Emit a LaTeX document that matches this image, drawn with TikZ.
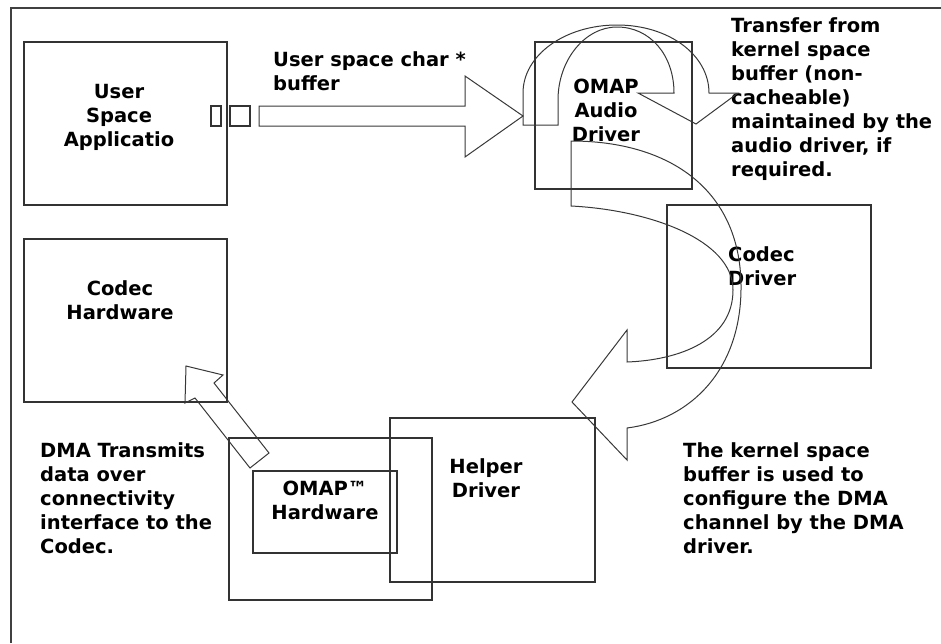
\documentclass[tikz,border=0pt]{standalone}
\usepackage{fontspec}
\setmainfont{DejaVu Sans}
\usetikzlibrary{shapes,arrows,positioning}

\begin{document}
\begin{tikzpicture}[x=1pt,y=-1pt]
 \tikzset{box node/.style={rectangle, draw=black!80, line width=1.3pt,
 		inner sep=0pt}, }
 \tikzset{label node/.style={inner sep=0pt,
 		font=\bfseries\fontsize{19.5}{24}\selectfont}, }
 \tikzset{shape line/.style={draw=black!78, line width=1pt}, }
 \useasboundingbox (0,0) rectangle (941,643);
 \draw[black!75, line width=1.3pt] (11,643) -- (11,8) -- (941,8);
 \node[box node, minimum width=203pt, minimum height=163pt] (1) at (125.5,123.5) {};
 \node[box node, minimum width=157pt, minimum height=147pt] (2) at (613.5,115.5) {};
 \node[box node, minimum width=204pt, minimum height=163pt] (3) at (769,286.5) {};
 \node[box node, minimum width=203pt, minimum height=163pt] (4) at (125.5,320.5) {};
 \node[box node, minimum width=205pt, minimum height=164pt] (5) at (492.5,500) {};
 \node[box node, minimum width=203pt, minimum height=162pt] (6) at (330.5,519) {};
 \node[box node, minimum width=144pt, minimum height=82pt] (7) at (325,512) {};
 \node[box node, minimum width=10pt, minimum height=20pt] (8) at (216,116) {};
 \node[box node, minimum width=20pt, minimum height=20pt] (9) at (240,116) {};

 \node[label node, anchor=north, align=center] (10) at (119,84) {User\\Space\\Applicatio};
 \node[label node, anchor=north west, align=left] (11) at (273,51) {User space char *\\buffer};
 \node[label node, anchor=north, align=center] (12) at (606,79) {OMAP\\Audio\\Driver};
 \node[label node, anchor=north west, align=left] (13) at (731,17) {Transfer from\\kernel space\\buffer (non-\\cacheable)\\maintained by the\\audio driver, if\\required.};
 \node[label node, anchor=north west, align=left] (14) at (728,246) {Codec\\Driver};
 \node[label node, anchor=north, align=center] (15) at (120,280) {Codec\\Hardware};
 \node[label node, anchor=north, align=center] (16) at (486,458) {Helper\\Driver};
 \node[label node, anchor=north, align=center] (17) at (325,481) {OMAP™\\Hardware};
 \node[label node, anchor=north west, align=left] (18) at (40,442) {DMA Transmits\\data over\\connectivity\\interface to the\\Codec.};
 \node[label node, anchor=north west, align=left] (19) at (683,442) {The kernel space\\buffer is used to\\configure the DMA\\channel by the DMA\\driver.};

% buffer arrow
 \draw[shape line] (259,106) -- (465,106) -- (465,76) -- (523,116) -- (465,157)
   -- (465,126) -- (259,126) -- cycle;
% u-turn over audio driver
 \draw[shape line] (558,125) -- (523,125) -- (523,93) .. controls (523,55) and (565,25) .. (617,25)
   .. controls (669,25) and (709,55) .. (709,93) -- (738,93) -- (696,124) -- (638,93) -- (674,93)
   .. controls (674,55) and (650,27) .. (617,27) .. controls (585,27) and (558,60) .. (558,100) -- cycle;
% u-turn down to helper driver
 \draw[shape line] (571,141) .. controls (670,141) and (740,190) .. (741,285)
   .. controls (742,370) and (690,420) .. (627,428) -- (627,460) -- (572,402) -- (627,330) -- (627,362)
   .. controls (680,360) and (733,340) .. (733,290) .. controls (733,240) and (650,210) .. (571,206) -- cycle;
% dma arrow
 \draw[shape line] (186,366) -- (223,375) -- (214,383) -- (269,453) -- (250,468)
   -- (195,398) -- (185,403) -- cycle;
\end{tikzpicture}
\end{document}
